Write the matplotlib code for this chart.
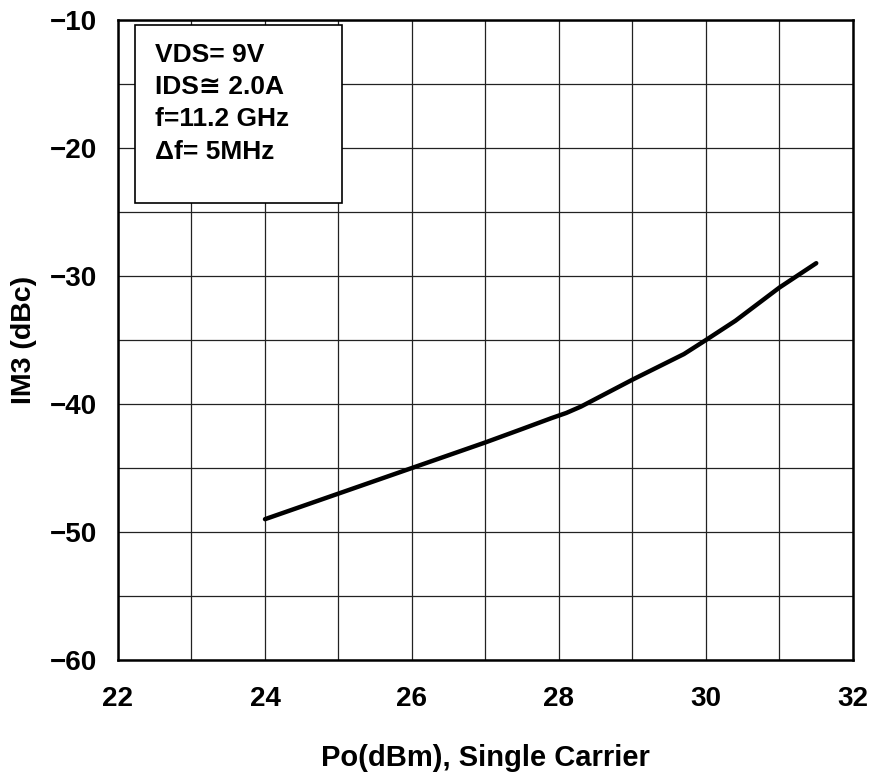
import matplotlib
matplotlib.use('Agg')
import matplotlib.pyplot as plt
from matplotlib.patches import Rectangle

plt.rcParams['font.family'] = ['Liberation Sans', 'DejaVu Sans']
plt.rcParams['font.weight'] = 'bold'

# IM3 vs output power
po = [24.0, 25.0, 26.0, 27.0, 27.5, 27.9, 28.1, 28.3, 28.6, 29.0, 29.7, 30.0, 30.4, 31.0, 31.5]
im3 = [-49.0, -47.0, -45.0, -43.0, -41.95, -41.1, -40.7, -40.2, -39.3, -38.1, -36.1, -35.0, -33.5, -30.9, -29.0]

xticks = [22, 24, 26, 28, 30, 32]
yticks = [-60, -50, -40, -30, -20, -10]
notes = ['VDS= 9V', 'IDS\u2245 2.0A', 'f=11.2 GHz', '\u0394f= 5MHz']

fig = plt.figure(figsize=(8.72, 7.78), dpi=100)
ax = fig.add_axes([0.1353, 0.1517, 0.8429, 0.8226])

ax.plot(po, im3, color='black', linewidth=3.2, solid_capstyle='round',
        solid_joinstyle='round', zorder=3)

ax.set_xlim(22, 32)
ax.set_ylim(-60, -10)
ax.set_xticks(xticks)
ax.set_yticks(yticks)
ax.set_xticks(range(22, 33), minor=True)
ax.set_yticks(range(-60, -9, 5), minor=True)
ax.grid(True, which='both', color='#222222', linewidth=0.9)
ax.tick_params(which='both', length=0, labelsize=20)
ax.tick_params(axis='x', pad=19)
ax.tick_params(axis='y', pad=15)
for sp in ax.spines.values():
    sp.set_linewidth(1.8)

ax.set_xlabel('Po(dBm), Single Carrier', fontsize=21, fontweight='bold', labelpad=23)
ax.set_ylabel('IM3 (dBc)', fontsize=20.5, fontweight='bold', labelpad=9)

# condition box
ax.add_patch(Rectangle((22.23, -24.3), 2.82, 13.9, facecolor='white',
                       edgecolor='black', linewidth=1.2, zorder=4))
for i, t in enumerate(notes):
    ax.text(22.5, -12.7 - i * 2.53, t, fontsize=19, fontweight='bold',
            va='center', ha='left', zorder=5)

fig.savefig('out.png', dpi=100)
